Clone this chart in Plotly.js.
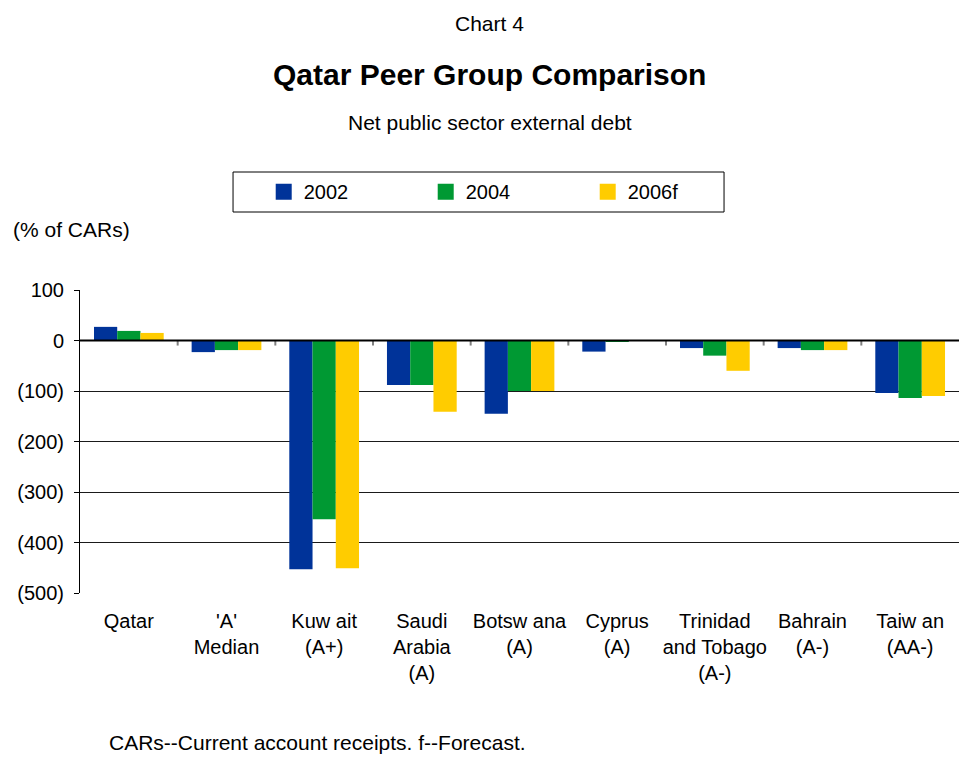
<!DOCTYPE html>
<html>
<head>
<meta charset="utf-8">
<script src="https://cdn.plot.ly/plotly-3.0.1.min.js"></script>
<style>html,body{margin:0;padding:0;background:#fff;}#chart{width:959px;height:758px;}</style>
</head>
<body>
<div id="chart"></div>
<script>
var categories = ["Qatar", "'A'<br>Median", "Kuw ait<br>(A+)", "Saudi<br>Arabia<br>(A)", "Botsw ana<br>(A)", "Cyprus<br>(A)", "Trinidad<br>and Tobago<br>(A-)", "Bahrain<br>(A-)", "Taiw an<br>(AA-)"];
var seriesNames = ["2002", "2004", "2006f"];
var values2002 = [27, -23, -453, -88, -145, -22, -15, -15, -104];
var values2004 = [19, -19, -354, -88, -100, -3, -30, -19, -114];
var values2006 = [15, -19, -451, -141, -100, 0, -60, -19, -110];
var yTickVals = [100, 0, -100, -200, -300, -400, -500];
var yTickText = ["100", "0", "(100)", "(200)", "(300)", "(400)", "(500)"];

var colors = ["#003399", "#009933", "#FFCC00"];
var allValues = [values2002, values2004, values2006];
var font = "Liberation Sans, Arial, sans-serif";

var traces = allValues.map(function(v, i) {
  return {type: "bar", name: seriesNames[i], x: categories, y: v, showlegend: false,
          marker: {color: colors[i], line: {width: 0}}, hoverinfo: "none"};
});
// legend entries with larger square swatches
seriesNames.forEach(function(n, i) {
  traces.push({type: "scatter", mode: "markers", name: n, x: [null], y: [null],
               marker: {symbol: "square", size: 16, color: colors[i]}, hoverinfo: "none"});
});

var shapes = [];
for (var i = 0; i < categories.length - 1; i++) {
  shapes.push({type: "line", xref: "x", yref: "y", x0: i + 0.5, x1: i + 0.5, y0: 0, y1: -10,
               line: {color: "#808080", width: 2}});
}
shapes.push({type: "line", xref: "paper", yref: "y", x0: 0, x1: 1, y0: 0, y1: 0, line: {color: "#000", width: 2}});
// legend frame
shapes.push({type: "rect", xref: "paper", yref: "paper", x0: 0.1741, x1: 0.7327, y0: 1.2574, y1: 1.3894,
             line: {color: "#000", width: 1}, fillcolor: "rgba(0,0,0,0)", layer: "above"});

var layout = {
  width: 959, height: 758,
  margin: {l: 80, r: 0, t: 290, b: 165},
  paper_bgcolor: "#fff", plot_bgcolor: "#fff",
  font: {family: font, color: "#000", size: 19},
  barmode: "group", bargap: 0.286, bargroupgap: 0,
  showlegend: true,
  legend: {orientation: "h", x: 0.209, xanchor: "left", y: 1.389, yanchor: "top",
           borderwidth: 0, bgcolor: "rgba(0,0,0,0)",
           font: {size: 20, family: font}, entrywidth: 117, entrywidthmode: "pixels",
           traceorder: "normal"},
  xaxis: {type: "category", showgrid: false, zeroline: false, showline: false, ticks: "",
          tickfont: {size: 20, family: font}, ticklabelstandoff: 14, fixedrange: true, automargin: false},
  yaxis: {range: [-500, 100], tickvals: yTickVals, ticktext: yTickText, showgrid: true,
          gridcolor: "#1a1a1a", gridwidth: 1, zeroline: false, showline: true, linecolor: "#000",
          linewidth: 1, ticks: "outside", ticklen: 5, tickcolor: "#000", ticklabelstandoff: 6,
          tickfont: {size: 20, family: font}, fixedrange: true, automargin: false},
  shapes: shapes,
  annotations: [
    {text: "Chart 4", xref: "paper", yref: "paper", x: 0.466, y: 1.878, xanchor: "center", yanchor: "middle", showarrow: false, font: {size: 21}},
    {text: "<b>Qatar Peer Group Comparison</b>", xref: "paper", yref: "paper", x: 0.466, y: 1.7096, xanchor: "center", yanchor: "middle", showarrow: false, font: {size: 30}},
    {text: "Net public sector external debt", xref: "paper", yref: "paper", x: 0.466, y: 1.554, xanchor: "center", yanchor: "middle", showarrow: false, font: {size: 21}},
    {text: "(% of CARs)", xref: "paper", yref: "paper", x: -0.078, y: 1.201, xanchor: "left", yanchor: "middle", showarrow: false, font: {size: 21}},
    {text: "CARs--Current account receipts. f--Forecast.", xref: "paper", yref: "paper", x: 0.031, y: -0.495, xanchor: "left", yanchor: "middle", showarrow: false, font: {size: 21}}
  ]
};

Plotly.newPlot("chart", traces, layout, {displayModeBar: false, staticPlot: true});
</script>
</body>
</html>
